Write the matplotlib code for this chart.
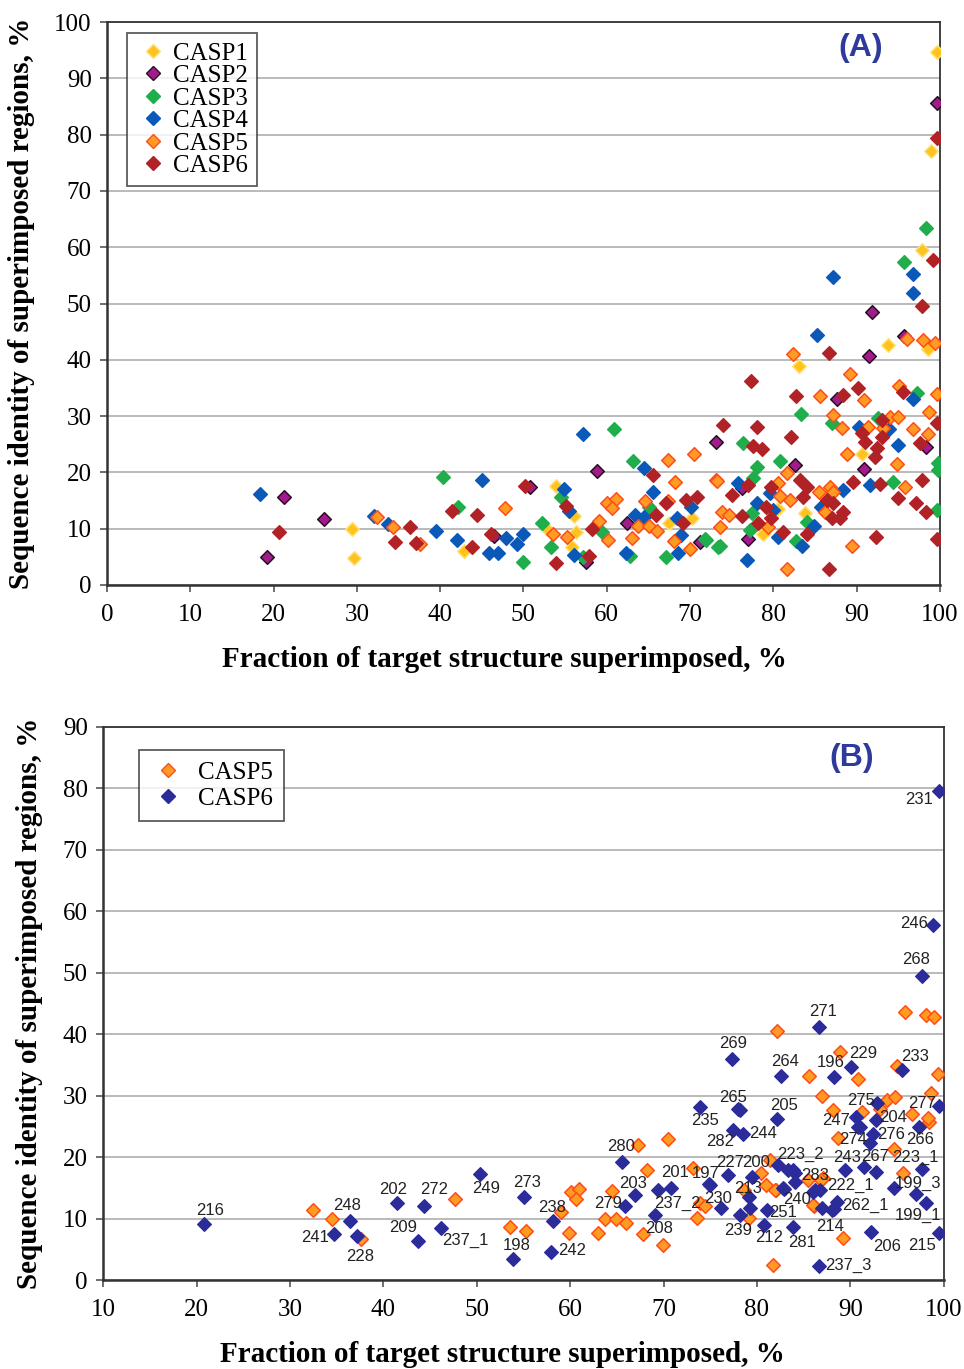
import matplotlib
matplotlib.use("Agg")
import matplotlib.pyplot as plt
from matplotlib.lines import Line2D

# ---- panel A: (fraction superimposed %, sequence identity %) per CASP round ----
casp1_x = [29.4, 29.7, 42.9, 52.8, 53.9, 56.1, 56.3, 55.8, 67.5, 70.2, 83.1, 93.8, 98.6, 90.6, 83.8, 80.6, 78.8, 99.6, 98.9, 97.9]
casp1_y = [9.9, 4.8, 6.0, 9.9, 17.6, 12.3, 9.4, 6.8, 11.0, 11.9, 38.9, 42.6, 41.9, 23.3, 12.8, 13.5, 9.1, 94.7, 77.1, 59.5]

casp2_x = [21.2, 26.0, 19.2, 46.5, 50.8, 57.5, 58.8, 62.4, 71.2, 73.1, 91.5, 95.7, 87.6, 98.3, 90.9, 82.6, 76.2, 77.0, 99.6, 91.8]
casp2_y = [15.6, 11.7, 5.0, 8.7, 17.4, 4.1, 20.2, 11.0, 7.6, 25.4, 40.7, 44.2, 33.0, 24.5, 20.6, 21.3, 17.2, 8.2, 85.6, 48.5]

casp3_x = [40.3, 42.1, 49.9, 52.2, 53.3, 54.5, 57.1, 60.9, 59.4, 62.8, 63.1, 65.1, 67.1, 71.9, 73.4, 97.2, 83.3, 87.0,
           76.4, 92.6, 99.8, 99.8, 94.4, 99.6, 80.8, 78.0, 77.6, 77.4, 84.0, 82.7, 77.2, 71.8, 73.6, 98.3, 95.7]
casp3_y = [19.2, 13.8, 4.1, 11.0, 6.8, 15.6, 5.0, 27.7, 9.4, 5.1, 22.0, 13.9, 5.0, 8.0, 6.8, 34.1, 30.4, 28.8,
           25.2, 29.7, 21.7, 20.4, 18.3, 13.3, 22.0, 21.0, 19.0, 12.8, 11.2, 7.8, 9.8, 8.2, 6.9, 63.4, 57.4]

casp4_x = [18.4, 32.0, 33.7, 39.5, 42.0, 45.0, 45.9, 47.0, 47.9, 49.2, 49.9, 54.9, 55.5, 56.1, 57.1, 62.3, 63.4, 64.5,
           64.5, 65.5, 68.4, 68.9, 68.5, 70.1, 85.2, 96.8, 90.3, 93.9, 95.0, 91.6, 76.8, 75.8, 79.6, 85.7, 88.4, 84.9,
           83.5, 80.6, 78.0, 80.0, 96.8, 96.8, 87.2]
casp4_y = [16.2, 12.3, 10.8, 9.5, 8.0, 18.6, 5.7, 5.7, 8.3, 7.3, 9.0, 17.1, 13.1, 5.3, 26.8, 5.7, 12.4, 12.1,
           20.8, 16.5, 11.9, 8.9, 5.7, 13.9, 44.4, 33.0, 28.1, 27.7, 24.9, 17.8, 4.4, 18.1, 16.3, 13.9, 16.9, 10.5,
           6.9, 8.5, 14.6, 13.3, 55.2, 51.9, 54.7]

casp5_x = [32.4, 34.3, 37.6, 47.8, 53.5, 55.2, 59.1, 60.0, 61.1, 60.6, 60.1, 63.0, 63.8, 64.6, 65.1, 66.0, 67.3, 68.2,
           67.3, 68.1, 70.0, 70.5, 73.1, 82.4, 96.0, 98.0, 99.4, 85.6, 89.2, 90.9, 95.1, 99.6, 87.2, 88.2, 91.4, 94.0,
           95.0, 93.2, 96.8, 98.7, 98.6, 88.8, 94.8, 95.8, 89.4, 81.6, 73.2, 81.6, 80.6, 80.8, 82.0, 85.5, 86.8, 87.2,
           86.2, 73.8, 74.7, 79.4, 73.6]
casp5_y = [12.1, 10.3, 7.3, 13.7, 9.0, 8.5, 11.4, 14.6, 15.3, 13.7, 8.0, 8.3, 10.5, 14.9, 10.5, 9.6, 22.2, 18.3,
           14.9, 7.8, 6.4, 23.3, 18.6, 41.0, 43.7, 43.5, 43.0, 33.6, 37.5, 32.9, 35.3, 33.9, 30.2, 27.9, 28.1, 29.8,
           29.8, 27.9, 27.7, 30.7, 26.8, 23.3, 21.5, 17.4, 6.9, 2.8, 18.5, 19.9, 18.1, 15.8, 15.1, 16.5, 17.4, 16.5,
           13.0, 13.0, 12.4, 10.3, 10.3]

casp6_x = [20.6, 36.4, 34.6, 37.1, 41.4, 43.8, 44.4, 46.1, 50.2, 53.9, 55.1, 57.9, 58.2, 65.5, 65.9, 67.1, 69.1, 69.5,
           70.8, 99.6, 99.2, 97.8, 86.7, 77.3, 82.7, 88.4, 90.2, 95.6, 74.0, 78.0, 82.1, 77.6, 78.6, 90.6, 91.0, 93.0,
           93.0, 99.6, 97.6, 92.4, 92.2, 89.6, 92.8, 97.8, 95.0, 97.1, 98.3, 99.6, 92.3, 86.7, 77.0, 75.0, 79.7, 83.2,
           84.0, 83.6, 86.4, 87.2, 88.4, 87.0, 88.0, 84.0, 81.2, 76.2, 78.2, 79.1, 79.7]
casp6_y = [9.4, 10.3, 7.6, 7.5, 13.1, 6.8, 12.4, 9.0, 17.6, 3.9, 14.0, 5.1, 9.9, 19.5, 12.4, 14.6, 11.0, 15.1,
           15.6, 79.4, 57.7, 49.6, 41.2, 36.2, 33.6, 33.7, 35.0, 34.3, 28.4, 28.1, 26.3, 24.7, 24.2, 27.0, 25.4, 26.3,
           29.3, 28.8, 25.2, 24.3, 22.7, 18.3, 17.9, 18.6, 15.5, 14.6, 13.0, 8.2, 8.5, 2.8, 17.8, 16.0, 17.4, 18.6,
           17.4, 15.6, 15.1, 14.6, 13.0, 11.9, 11.9, 9.1, 9.4, 12.3, 11.0, 13.9, 11.9]

# ---- panel B: CASP5 and CASP6 targets ----
b5_x = [32.5, 34.5, 37.6, 47.7, 53.6, 55.3, 60.1, 60.9, 60.6, 59.0, 59.9, 63.0, 64.5, 63.7, 64.9, 66.0, 67.3, 70.5,
        68.2, 67.8, 69.9, 73.1, 73.6, 73.9, 74.4, 81.4, 80.4, 81.0, 78.6, 79.2, 82.0, 85.5, 87.1, 86.1, 88.1, 91.2,
        88.7, 81.9, 86.0, 89.2, 81.7, 94.7, 95.6, 86.9, 98.4, 82.1, 88.9, 85.6, 90.8, 87.0, 93.2, 93.9, 94.8, 95.0,
        95.8, 98.1, 99.0, 99.4, 98.6, 96.6, 98.3]
b5_y = [11.4, 9.9, 6.7, 13.2, 8.6, 8.0, 14.3, 14.8, 13.2, 11.1, 7.6, 7.6, 14.5, 9.9, 9.9, 9.3, 22.0, 22.9,
        17.9, 7.5, 5.7, 18.2, 10.1, 12.5, 12.0, 19.5, 17.4, 15.5, 14.6, 10.1, 14.6, 16.3, 16.6, 12.0, 27.7, 27.3,
        23.1, 14.6, 12.2, 6.8, 2.4, 21.3, 17.4, 16.3, 25.7, 40.5, 37.1, 33.2, 32.7, 29.9, 27.8, 29.3, 29.8, 34.8,
        43.6, 43.1, 42.8, 33.5, 30.4, 27.0, 26.4]

b6_names = ["216", "241", "248", "228", "202", "209", "272", "237_1", "249", "273", "198", "238", "242",
            "280", "203", "279", "201", "237_2", "208", "197", "230", "227", "200", "213", "239", "212",
            "251", "282", "244", "235", "205", "265", "269", "264", "271", "196", "229", "233", "275",
            "247", "204", "277", "274", "276", "266", "243", "267", "223_1", "199_3", "199_1", "215",
            "206", "214", "281", "237_3", "262_1", "222_1", "240", "283", "223_2", "231", "246", "268"]
b6_x = [20.8, 34.7, 36.4, 37.2, 41.5, 43.7, 44.4, 46.2, 50.3, 55.1, 53.9, 58.2, 57.9,
        65.5, 66.9, 65.9, 70.8, 69.4, 69.1, 74.9, 76.2, 76.9, 79.5, 79.2, 78.2, 80.8,
        81.1, 77.4, 78.5, 73.9, 82.1, 78.0, 77.3, 82.6, 86.6, 88.3, 90.1, 95.5, 92.9,
        90.6, 92.7, 99.5, 91.0, 92.4, 97.3, 89.4, 91.5, 97.7, 94.7, 98.1, 99.5,
        92.2, 88.2, 83.9, 86.6, 88.6, 86.8, 82.8, 83.9, 82.2, 99.5, 98.9, 97.7]
b6_y = [9.1, 7.5, 9.6, 7.2, 12.5, 6.4, 12.1, 8.5, 17.3, 13.5, 3.4, 9.6, 4.6,
        19.2, 13.8, 12.0, 15.0, 14.6, 10.6, 15.6, 11.7, 17.1, 16.8, 13.5, 10.6, 9.0,
        11.4, 24.4, 23.8, 28.2, 26.2, 27.8, 36.0, 33.2, 41.2, 33.1, 34.7, 34.2, 28.8,
        26.5, 26.0, 28.3, 24.9, 23.8, 24.9, 17.9, 18.4, 18.1, 15.0, 12.5, 7.6,
        7.8, 11.6, 8.6, 2.3, 12.7, 14.7, 15.0, 17.9, 18.7, 79.5, 57.7, 49.5]
# unlabeled CASP6 points
b6u_x = [84.1, 83.3, 82.9, 86.2, 87.0, 88.0, 79.3, 75.0, 84.1, 86.0, 92.1, 90.8, 97.0, 92.7, 78.2]
b6u_y = [17.4, 17.9, 14.8, 14.6, 11.7, 11.4, 11.7, 15.5, 16.0, 14.3, 22.3, 24.9, 14.0, 17.6, 27.7]

# label offsets (pixels, dx right / dy down) for the B labels
label_off = [(6, -14), (-19, 4), (-3, -16), (3, 21), (-4, -14), (-15, -13), (10, -16), (24, 13), (7, 15),
             (3, -15), (4, -14), (-1, -14), (22, -1), (0, -16), (-2, -12), (-17, -3), (4, -15), (19, 13),
             (4, 14), (-4, -11), (-3, -10), (2, -12), (4, -14), (-1, -9), (-2, 16), (5, 13), (16, 3),
             (-13, 11), (20, 0), (5, 14), (7, -14), (-5, -12), (1, -15), (4, -14), (4, -15), (-4, -14),
             (12, -13), (13, -13), (-16, -3), (-20, 3), (17, -3), (-17, -3), (-7, 13), (18, 1), (2, 13),
             (2, -13), (11, -10), (-7, -11), (24, -4), (-8, 12), (-17, 12), (16, 14), (-3, 18), (9, 15),
             (30, 0), (28, 3), (30, -4), (14, 12), (22, 5), (23, -11), (-20, 8), (-19, -2), (-6, -16)]

serif = "Liberation Serif"
sans = "Liberation Sans"

fig = plt.figure(figsize=(9.64, 13.69), dpi=100)
axA = fig.add_axes([0.111, 0.5727, 0.864, 0.4112])
axB = fig.add_axes([0.107, 0.065, 0.872, 0.404])

styles = [
    ("CASP1", casp1_x, casp1_y, "#FFC21E", "#FFE070"),
    ("CASP2", casp2_x, casp2_y, "#A3198E", "#2A0F22"),
    ("CASP3", casp3_x, casp3_y, "#1FAE4B", "#1FAE4B"),
    ("CASP4", casp4_x, casp4_y, "#0A58B8", "#0A58B8"),
    ("CASP5", casp5_x, casp5_y, "#FF9A22", "#FF4D1A"),
    ("CASP6", casp6_x, casp6_y, "#B02226", "#B02226"),
]

for ax in (axA, axB):
    ax.grid(axis="y", color="#B4B4B4", lw=1.3)
    ax.set_axisbelow(True)
    for s in ax.spines.values():
        s.set_color("#333333")
        s.set_linewidth(1.3)
    ax.spines["left"].set_linewidth(1.8)
    ax.spines["bottom"].set_linewidth(1.8)
    ax.tick_params(axis="both", labelsize=18, length=5, width=1.2, color="#555555")
    ax.tick_params(axis="x", pad=9)
    ax.tick_params(axis="y", pad=6)
    for t in ax.get_xticklabels() + ax.get_yticklabels():
        t.set_family(serif)

handles = []
for name, xs, ys, fc, ec in styles:
    axA.scatter(xs, ys, marker="D", s=48, facecolor=fc, edgecolor=ec, linewidths=1.1, zorder=3)
    handles.append(Line2D([], [], ls="", marker="D", markersize=7, markerfacecolor=fc,
                          markeredgecolor=ec, markeredgewidth=1, label=name))

axA.set_xlim(0, 100)
axA.set_ylim(0, 100)
axA.set_xticks(range(0, 101, 10))
axA.set_yticks(range(0, 101, 10))
axA.text(0.905, 0.953, "(A)", transform=axA.transAxes, fontsize=23, fontweight="bold",
         color="#2E3A9C", family=sans, ha="center", va="center")
legA = axA.legend(handles=handles, loc="upper left", bbox_to_anchor=(0.024, 0.98), frameon=True,
                  fancybox=False, edgecolor="#333333", prop={"family": serif, "size": 18},
                  handletextpad=0.1, labelspacing=0.0, borderpad=0.35, handlelength=1.4,
                  borderaxespad=0)
legA.get_frame().set_linewidth(1.3)

axB.scatter(b5_x, b5_y, marker="D", s=48, facecolor="#FF9A22", edgecolor="#FF4D1A", linewidths=1.1, zorder=3)
axB.scatter(b6_x, b6_y, marker="D", s=48, facecolor="#2B2B9A", edgecolor="#2B2B9A", linewidths=1, zorder=4)
axB.scatter(b6u_x, b6u_y, marker="D", s=48, facecolor="#2B2B9A", edgecolor="#2B2B9A", linewidths=1, zorder=4)
for name, x, y, (dx, dy) in zip(b6_names, b6_x, b6_y, label_off):
    axB.annotate(name, (x, y), xytext=(dx, -dy), textcoords="offset pixels", ha="center", va="center",
                 fontsize=12, family=sans, color="#222222", zorder=5, annotation_clip=False)

axB.set_xlim(10, 100)
axB.set_ylim(0, 90)
axB.set_xticks(range(10, 101, 10))
axB.set_yticks(range(0, 91, 10))
axB.text(0.89, 0.944, "(B)", transform=axB.transAxes, fontsize=23, fontweight="bold",
         color="#2E3A9C", family=sans, ha="center", va="center")
hB = [Line2D([], [], ls="", marker="D", markersize=7, markerfacecolor="#FF9A22", markeredgecolor="#FF4D1A",
             label="CASP5"),
      Line2D([], [], ls="", marker="D", markersize=7, markerfacecolor="#2B2B9A", markeredgecolor="#2B2B9A",
             label="CASP6")]
legB = axB.legend(handles=hB, loc="upper left", bbox_to_anchor=(0.043, 0.958), frameon=True,
                  fancybox=False, edgecolor="#333333", prop={"family": serif, "size": 18},
                  handletextpad=0.5, labelspacing=0.15, borderpad=0.45, handlelength=1.4,
                  borderaxespad=0)
legB.get_frame().set_linewidth(1.3)

for ax, xc in ((axA, 0.477), (axB, 0.475)):
    ax.set_xlabel("Fraction of target structure superimposed, %", fontsize=21, fontweight="bold",
                  family=serif, labelpad=14, x=xc)
    ax.set_ylabel("Sequence identity of superimposed regions, %", fontsize=21, fontweight="bold",
                  family=serif, labelpad=14)

fig.savefig("out.png", dpi=100)
